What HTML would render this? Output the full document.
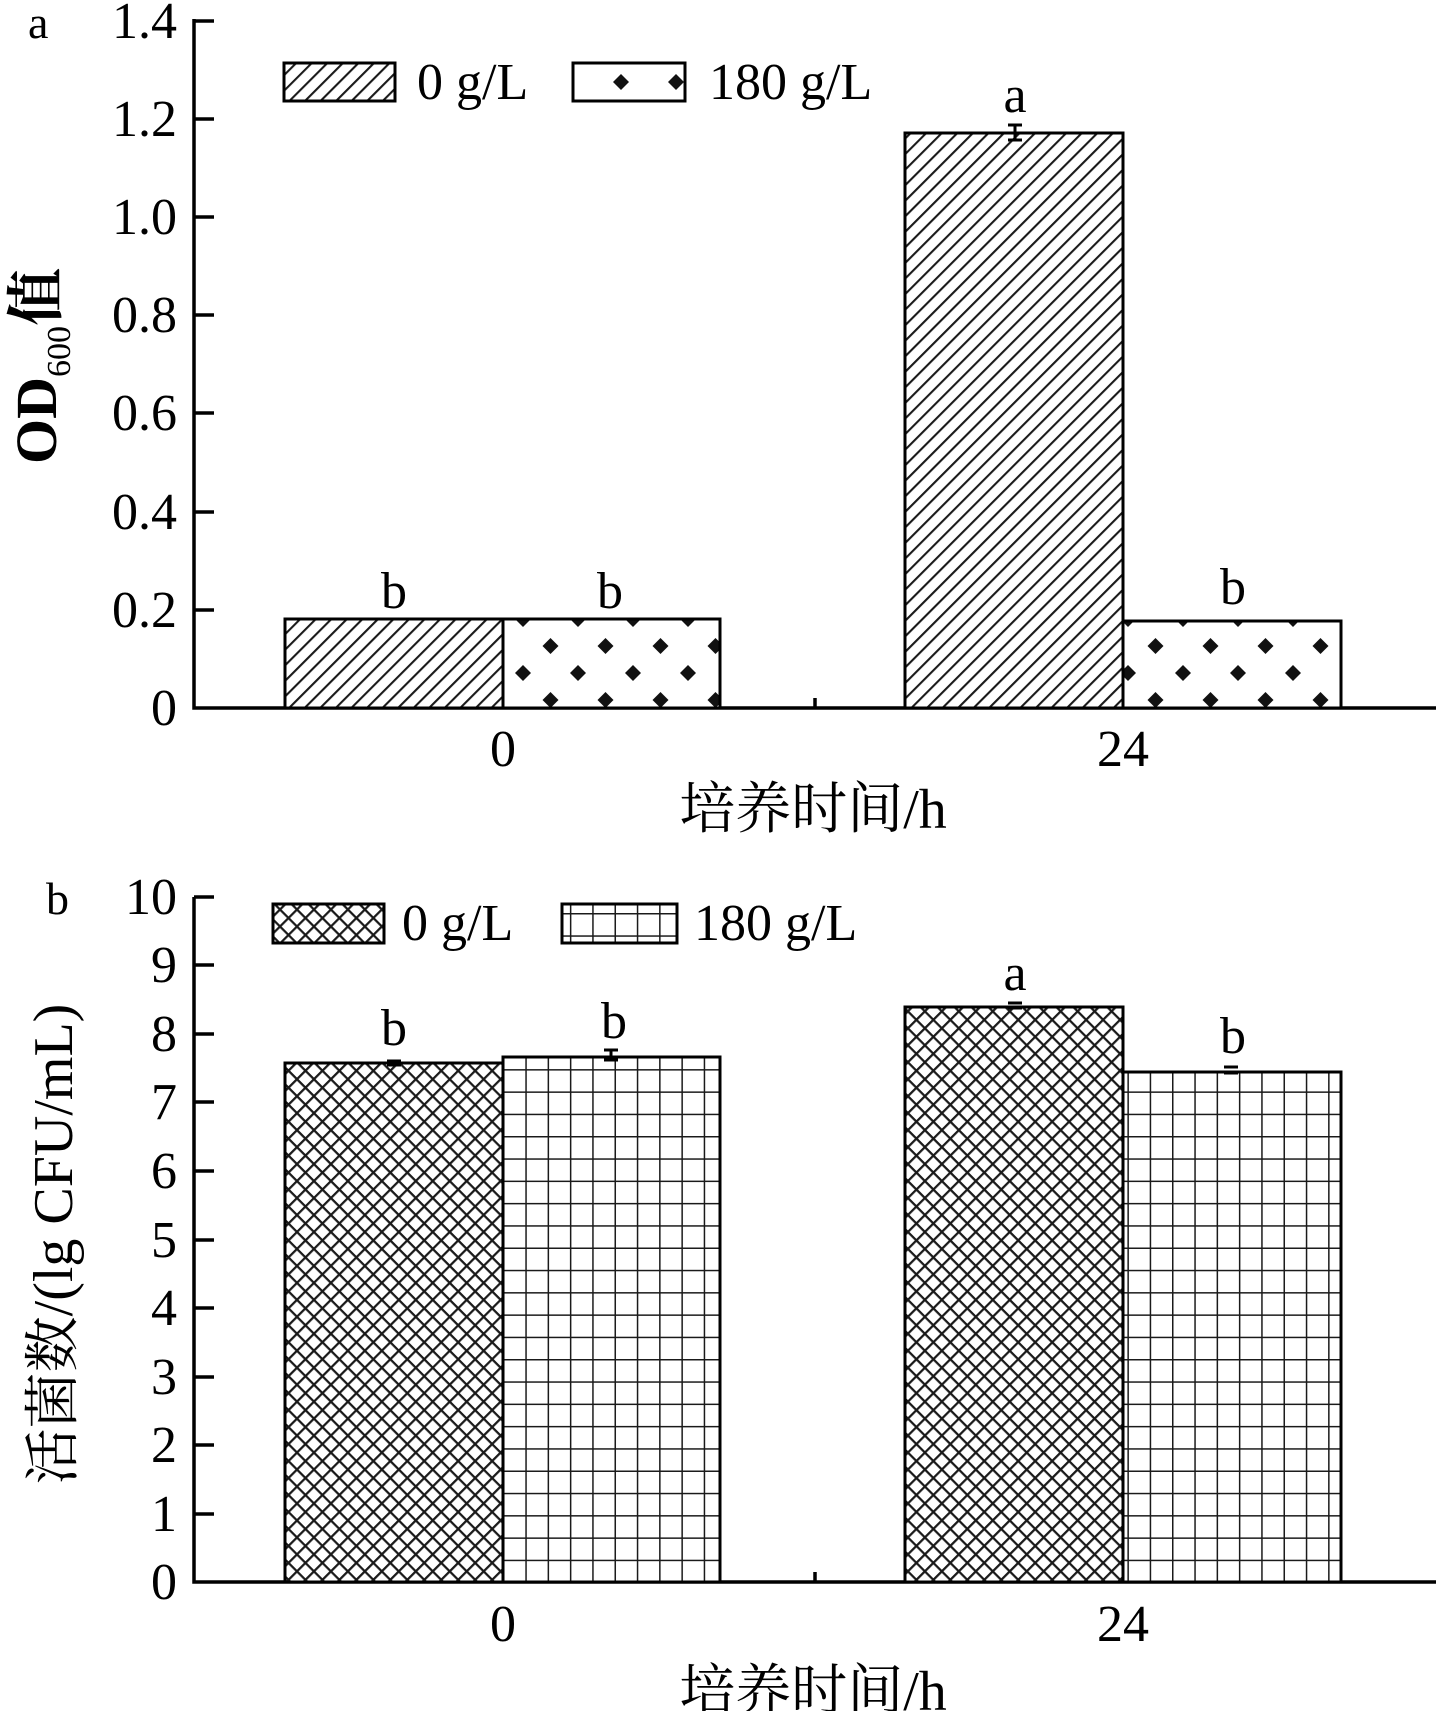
<!DOCTYPE html>
<html><head><meta charset="utf-8"><style>body{margin:0;background:#fff}svg{display:block}</style></head><body>
<svg width="1436" height="1711" viewBox="0 0 1436 1711" xmlns="http://www.w3.org/2000/svg" font-family="'Liberation Serif','Noto Serif CJK SC',serif" fill="#000">
<defs>
<pattern id="hatch" width="11" height="11" patternUnits="userSpaceOnUse" patternTransform="rotate(45)">
<rect width="11" height="11" fill="#fff"/><line x1="0" y1="0" x2="0" y2="11" stroke="#1a1a1a" stroke-width="4.2"/></pattern>
<pattern id="dots" width="55" height="54" patternUnits="userSpaceOnUse" x="513" y="611">
<rect width="55" height="54" fill="#fff"/>
<path d="M10 0 l8 8 l-8 8 l-8 -8z M37.5 27 l8 8 l-8 8 l-8 -8z" fill="#111"/></pattern>
<pattern id="cross" width="12" height="12" patternUnits="userSpaceOnUse" patternTransform="rotate(45)">
<rect width="12" height="12" fill="#fff"/><path d="M0 0V12M0 0H12" stroke="#1a1a1a" stroke-width="4.5"/></pattern>
<pattern id="grid" width="22.3" height="22.3" patternUnits="userSpaceOnUse" x="503" y="1582">
<rect width="22.3" height="22.3" fill="#fff"/><path d="M0 0V22.3M0 0H22.3" stroke="#1a1a1a" stroke-width="3"/></pattern>
</defs>

<!-- Panel a -->
<g font-size="52">
<text x="28" y="38" font-size="46">a</text>
<g stroke="#000" stroke-width="3.5" fill="none">
<path d="M194 19V708H1436"/>
<path d="M194 21h20M194 119h20M194 217h20M194 315h20M194 413h20M194 512h20M194 610h20M815 708v-10"/>
</g>
<g text-anchor="end">
<text x="177" y="38">1.4</text><text x="177" y="136">1.2</text><text x="177" y="234">1.0</text>
<text x="177" y="332">0.8</text><text x="177" y="430">0.6</text><text x="177" y="529">0.4</text>
<text x="177" y="627">0.2</text><text x="177" y="725">0</text>
</g>
<rect x="285" y="619" width="218" height="89" fill="url(#hatch)" stroke="#000" stroke-width="3"/>
<rect x="503" y="619" width="217" height="89" fill="url(#dots)" stroke="#000" stroke-width="3"/>
<rect x="905" y="133" width="218" height="575" fill="url(#hatch)" stroke="#000" stroke-width="3"/>
<rect x="1123" y="621" width="218" height="87" fill="url(#dots)" stroke="#000" stroke-width="3"/>
<path d="M1008 125h14M1015 125v15M1008 140h14" stroke="#000" stroke-width="3"/>
<g text-anchor="middle">
<text x="394" y="608">b</text><text x="610" y="608">b</text><text x="1015" y="112">a</text><text x="1233" y="604">b</text>
<text x="503" y="766">0</text><text x="1123" y="766">24</text>
<text x="813" y="828" font-size="56">培养时间/h</text>
</g>
<rect x="284" y="63" width="111" height="38" fill="url(#hatch)" stroke="#000" stroke-width="3"/>
<text x="417" y="99">0 g/L</text>
<rect x="573" y="63" width="112" height="38" fill="#fff" stroke="#000" stroke-width="3"/>
<path d="M621 74l8 8-8 8-8-8z M676 74l8 8-8 8-8-8z" fill="#111"/>
<text x="709" y="99">180 g/L</text>
<text transform="translate(56 366) rotate(-90)" text-anchor="middle" font-weight="bold" font-size="58">OD<tspan font-size="34" dy="14" font-weight="normal">600</tspan><tspan dy="-14">值</tspan></text>
</g>

<!-- Panel b -->
<g font-size="52">
<text x="46" y="914" font-size="46">b</text>
<g stroke="#000" stroke-width="3.5" fill="none">
<path d="M194 897V1582H1436"/>
<path d="M194 897h20M194 965h20M194 1034h20M194 1102h20M194 1171h20M194 1240h20M194 1308h20M194 1377h20M194 1445h20M194 1514h20M815 1582v-10"/>
</g>
<g text-anchor="end">
<text x="177" y="914">10</text><text x="177" y="982">9</text><text x="177" y="1051">8</text>
<text x="177" y="1119">7</text><text x="177" y="1188">6</text><text x="177" y="1257">5</text>
<text x="177" y="1325">4</text><text x="177" y="1394">3</text><text x="177" y="1462">2</text>
<text x="177" y="1531">1</text><text x="177" y="1599">0</text>
</g>
<rect x="285" y="1063" width="218" height="519" fill="url(#cross)" stroke="#000" stroke-width="3"/>
<rect x="503" y="1057" width="217" height="525" fill="url(#grid)" stroke="#000" stroke-width="3"/>
<rect x="905" y="1007" width="218" height="575" fill="url(#cross)" stroke="#000" stroke-width="3"/>
<rect x="1123" y="1072" width="218" height="510" fill="url(#grid)" stroke="#000" stroke-width="3"/>
<path d="M387 1061h14M387 1065h14 M604 1050h14M611 1050v10M604 1060h14 M1008 1003h14M1008 1008h14 M1224 1067h14M1224 1073h14" stroke="#000" stroke-width="3"/>
<g text-anchor="middle">
<text x="394" y="1045">b</text><text x="614" y="1038">b</text><text x="1015" y="990">a</text><text x="1233" y="1053">b</text>
<text x="503" y="1641">0</text><text x="1123" y="1641">24</text>
<text x="813" y="1710" font-size="56">培养时间/h</text>
</g>
<rect x="273" y="904" width="111" height="39" fill="url(#cross)" stroke="#000" stroke-width="3"/>
<text x="402" y="940">0 g/L</text>
<rect x="562" y="904" width="115" height="39" fill="url(#grid)" stroke="#000" stroke-width="3"/>
<text x="694" y="940">180 g/L</text>
<text transform="translate(72 1244) rotate(-90)" text-anchor="middle" font-size="56">活菌数/(lg CFU/mL)</text>
</g>
</svg>
</body></html>
